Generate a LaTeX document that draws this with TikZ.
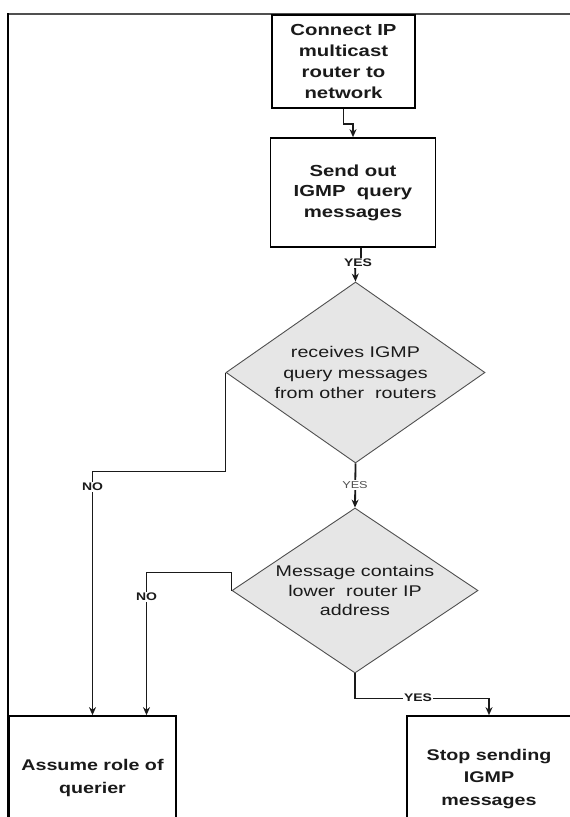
\documentclass[tikz,border=0pt]{standalone}
\usepackage{fontspec}
\setmainfont{Liberation Sans}[FakeStretch=1.27]
\newfontfamily\heavy{Liberation Sans Bold}[FakeStretch=1.27]
\usetikzlibrary{arrows.meta,shapes.geometric}
\definecolor{ink}{HTML}{1A1A1A}
\definecolor{rim}{HTML}{505050}
\definecolor{shade}{HTML}{E6E6E6}
\tikzset{
  boxnode/.style={draw=black, line width=1.7pt, fill=white, rectangle, inner sep=0pt,
    align=center, text=ink, font=\heavy\fontsize{16}{21}\selectfont},
  decision/.style={diamond, draw=rim, line width=0.9pt, fill=shade, inner sep=0pt,
    align=center, text=ink, font=\fontsize{15.5}{20.5}\selectfont},
  conn/.style={draw=ink, line width=1.8pt},
  arr/.style={conn, -{Stealth[length=8pt,width=7pt]}},
  lbl/.style={fill=white, inner sep=1pt, text=ink, font=\heavy\fontsize{11}{11}\selectfont},
  lblsoft/.style={fill=white, inner sep=1pt, text=rim, font=\fontsize{10}{10}\selectfont}
}
\begin{document}
\begin{tikzpicture}[x=1pt, y=-1pt]
  \useasboundingbox (0,0) rectangle (570,817);
  \clip (0,0) rectangle (570,817);
  \fill[white] (0,0) rectangle (570,817);

  % outer frame (top and left rules)
  \draw[draw=rim, line width=2.2pt] (7,14) -- (572,14);
  \draw[draw=black, line width=2.6pt] (8,13) -- (8,820);

  % process boxes
  \node[boxnode, minimum width=143, minimum height=93] (box1) at (343.5,61.5)
    {Connect IP\\multicast\\router to\\network};
  \node[boxnode, minimum width=165, minimum height=109,
        font=\heavy\fontsize{16}{20.5}\selectfont] (box2) at (353,192.5)
    {Send out\\IGMP\ \ query\\messages};

  % decisions
  \node[decision, aspect=1.43, minimum width=259, minimum height=181] (d1) at (355.5,372.5)
    {receives IGMP\\query messages\\from other\ \ routers};
  \node[decision, aspect=1.49, minimum width=246, minimum height=165,
        font=\fontsize{15.5}{19.8}\selectfont] (d2) at (355,590.5)
    {Message contains\\lower\ \ router IP\\address};

  % outcome boxes (run past the lower edge)
  \node[boxnode, minimum width=167, minimum height=124,
        font=\heavy\fontsize{15.5}{23}\selectfont] (box3) at (92.5,778)
    {Assume role of\\querier};
  \node[boxnode, minimum width=164, minimum height=124,
        font=\heavy\fontsize{15.5}{22.5}\selectfont] (box4) at (489,778)
    {\raisebox{9pt}{\begin{tabular}{@{}c@{}}Stop sending\\IGMP\\messages\end{tabular}}};

  % connectors
  \draw[arr] (box1.south) -- ++(0,15) -| (box2.north);
  \draw[arr] ([xshift=8pt]box2.south) -- ++(0,16) -- ++(-6,0) -- (d1.north);
  \node[lbl] at (358,263) {YES};

  \draw[arr] (d1.south) -- (d2.north);
  \node[lblsoft] at (355,485) {YES};

  \draw[arr] (d1.west) -- ++(0,99) -| (box3.north);
  \node[lbl] at (92.5,487) {NO};

  \draw[arr] (d2.west) -- ++(0,-18) -| ([xshift=54pt]box3.north);
  \node[lbl] at (146.5,597) {NO};

  \draw[arr] (d2.south) -- ++(0,25) -| (box4.north);
  \node[lbl] at (418,698) {YES};
\end{tikzpicture}
\end{document}
